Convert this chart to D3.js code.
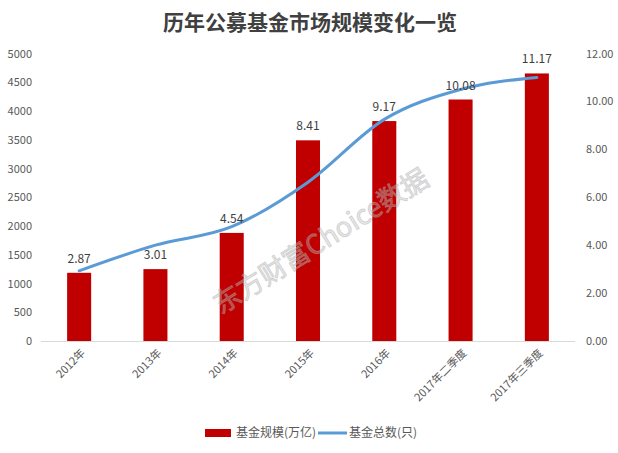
<!DOCTYPE html>
<html><head><meta charset="utf-8">
<script src="https://cdn.jsdelivr.net/npm/d3@7"></script>
<style>
body{margin:0;background:#fff;}
text{font-family:"Noto Sans CJK SC","Microsoft YaHei",sans-serif;}
</style></head>
<body><svg id="c" width="618" height="453"></svg>
<script>
const categories = ["2012年","2013年","2014年","2015年","2016年","2017年二季度","2017年三季度"];
const barValues = [1186, 1250, 1880, 3490, 3825, 4200, 4653];
const barLabels = ["2.87","3.01","4.54","8.41","9.17","10.08","11.17"];
const lineValues = [2.93, 4.0, 4.77, 6.63, 9.25, 10.5, 11.0];
const leftTicks = [0,500,1000,1500,2000,2500,3000,3500,4000,4500,5000];
const rightTicks = [0,2,4,6,8,10,12];

const svg = d3.select("#c");
const L = 41, R = 575, T = 53.5, B = 341;
const x = d3.scaleBand().domain(categories).range([L, R]).paddingInner(0.685).paddingOuter(0.3425);
const yL = d3.scaleLinear().domain([0,5000]).range([B, T]);
const yR = d3.scaleLinear().domain([0,12]).range([B, T]);
const txt = "#595959";

svg.append("text").attr("x", 310).attr("y", 30).attr("text-anchor","middle")
  .attr("font-size", 21).attr("font-weight","bold").attr("fill","#404040")
  .text("历年公募基金市场规模变化一览");

// left axis
const gl = svg.append("g").attr("transform",`translate(${L},0)`)
  .call(d3.axisLeft(yL).tickValues(leftTicks).tickSize(0).tickPadding(9).tickFormat(d3.format("d")));
gl.select(".domain").remove();
gl.selectAll("text").attr("font-size", 11).attr("fill", txt).attr("font-family","'Liberation Sans',Arial,sans-serif");

// right axis
const gr = svg.append("g").attr("transform",`translate(${R},0)`)
  .call(d3.axisRight(yR).tickValues(rightTicks).tickSize(0).tickPadding(11).tickFormat(d3.format(".2f")));
gr.select(".domain").remove();
gr.selectAll("text").attr("font-size", 11).attr("fill", txt).attr("font-family","'Liberation Sans',Arial,sans-serif");

// bars
svg.append("g").selectAll("rect").data(categories).join("rect")
  .attr("x", d => x(d)).attr("width", x.bandwidth())
  .attr("y", (d,i) => yL(barValues[i])).attr("height", (d,i) => B - yL(barValues[i]))
  .attr("fill", "#C00000");

// bottom axis line
svg.append("line").attr("x1", L).attr("x2", R).attr("y1", B+0.5).attr("y2", B+0.5)
  .attr("stroke", "#D9D9D9").attr("stroke-width", 1);

// watermark
svg.append("text").attr("transform","translate(322,243) rotate(-32)")
  .attr("text-anchor","middle").attr("dominant-baseline","middle")
  .attr("font-size", 27).attr("fill","rgba(190,190,190,0.35)")
  .attr("stroke","rgba(170,170,170,0.45)").attr("stroke-width",1)
  .text("东方财富Choice数据");

// line
const line = d3.line().x((d,i) => x(categories[i]) + x.bandwidth()/2).y(d => yR(d)).curve(d3.curveMonotoneX);
svg.append("path").datum(lineValues).attr("d", line)
  .attr("fill","none").attr("stroke","#5B9BD5").attr("stroke-width",3).attr("stroke-linecap","round");

// bar labels
svg.append("g").selectAll("text").data(categories).join("text")
  .attr("x", d => x(d) + x.bandwidth()/2).attr("y", (d,i) => yL(barValues[i]) - 10)
  .attr("text-anchor","middle").attr("font-size", 12).attr("fill","#404040")
  .attr("font-family","'Liberation Sans',Arial,sans-serif")
  .text((d,i) => barLabels[i]);

// x labels
svg.append("g").selectAll("text").data(categories).join("text")
  .attr("transform", d => `translate(${x(d) + x.bandwidth()/2 + 4},${B + 10}) rotate(-45)`)
  .attr("text-anchor","end").attr("dy","0.35em").attr("font-size", 11).attr("fill", txt)
  .text(d => d);

// legend
const lg = svg.append("g");
lg.append("rect").attr("x",205).attr("y",429).attr("width",26).attr("height",8).attr("fill","#C00000");
lg.append("text").attr("x",236).attr("y",433).attr("dy","0.35em").attr("font-size",12).attr("fill",txt).text("基金规模(万亿)");
lg.append("line").attr("x1",318).attr("x2",347).attr("y1",433).attr("y2",433).attr("stroke","#5B9BD5").attr("stroke-width",3);
lg.append("text").attr("x",349).attr("y",433).attr("dy","0.35em").attr("font-size",12).attr("fill",txt).text("基金总数(只)");
</script></body></html>
